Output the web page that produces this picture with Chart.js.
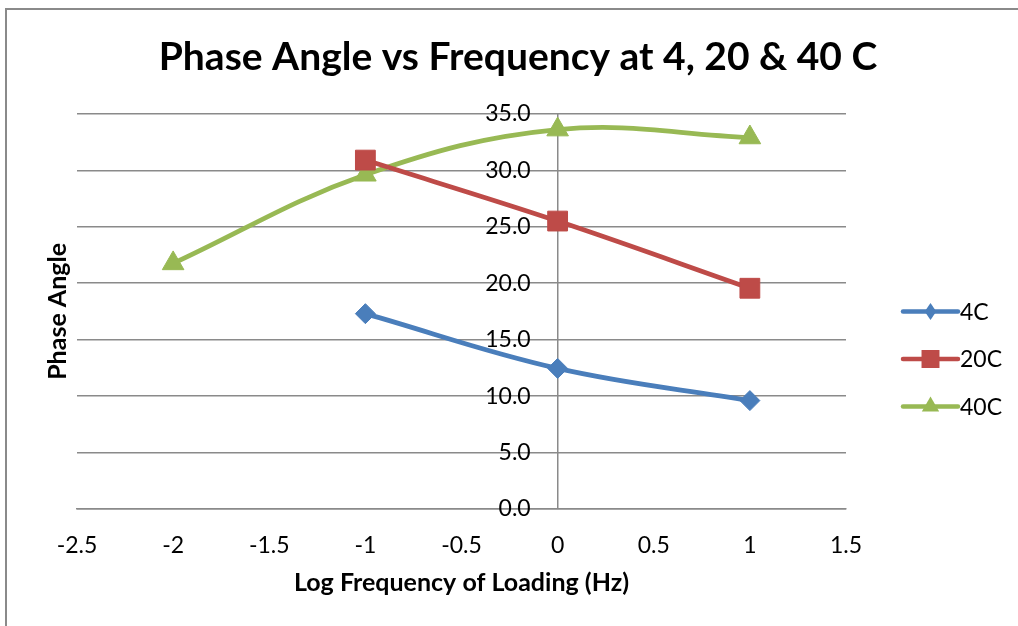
<!DOCTYPE html>
<html>
<head>
<meta charset="utf-8">
<title>Phase Angle vs Frequency</title>
<script src="https://cdn.jsdelivr.net/npm/chart.js@4.4.0/dist/chart.umd.min.js"></script>
<style>
  html, body { margin: 0; padding: 0; background: #ffffff; }
  #wrap { position: relative; width: 1018px; height: 626px; }
</style>
</head>
<body>
<div id="wrap"><canvas id="chart" width="1018" height="626"></canvas></div>
<script>
// Log10 of loading frequency (Hz) for each temperature series
const freq4C  = [-1, 0, 1];
const freq20C = [-1, 0, 1];
const freq40C = [-2, -1, 0, 1];

// Phase angle (degrees)
const phase4C  = [17.3, 12.45, 9.6];
const phase20C = [30.9, 25.5, 19.55];
const phase40C = [21.75, 29.6, 33.6, 32.9];

const seriesNames = ['4C', '20C', '40C'];
const chartTitle = 'Phase Angle vs Frequency at 4, 20 & 40 C';
const xTitle = 'Log Frequency of Loading (Hz)';
const yTitle = 'Phase Angle';

const FONT = "Lato, 'Open Sans', 'DejaVu Sans', sans-serif";
const GRID = '#8a8a8a';
const COLORS = ['#4a7ebb', '#be4b48', '#98b954'];
const STYLES = ['rectRot', 'rect', 'triangle'];
const RADII = [10, 14, 12.5];

const toPoints = (xs, ys) => xs.map((x, i) => ({ x: x, y: ys[i] }));

function makeDataset(i, xs, ys) {
  return {
    label: seriesNames[i],
    data: toPoints(xs, ys),
    yAxisID: 'y',
    xAxisID: 'x',
    borderColor: COLORS[i],
    backgroundColor: COLORS[i],
    borderWidth: 4.75,
    borderCapStyle: 'round',
    borderJoinStyle: 'round',
    tension: 0.38,
    pointStyle: STYLES[i],
    pointRadius: RADII[i],
    pointHoverRadius: RADII[i],
    pointBackgroundColor: COLORS[i],
    pointBorderColor: COLORS[i],
    pointBorderWidth: 1,
    showLine: true,
    fill: false
  };
}

// Marker shape used in the side key
function drawMarker(ctx, style, x, y, r) {
  ctx.beginPath();
  if (style === 'rect') {
    const s = r * Math.SQRT1_2;
    ctx.rect(x - s, y - s, 2 * s, 2 * s);
  } else if (style === 'rectRot') {
    ctx.moveTo(x, y - r);
    ctx.lineTo(x + r * 0.68, y);
    ctx.lineTo(x, y + r);
    ctx.lineTo(x - r * 0.68, y);
    ctx.closePath();
  } else {
    ctx.moveTo(x, y - r);
    ctx.lineTo(x + r * Math.sin(Math.PI * 2 / 3), y + r * 0.5);
    ctx.lineTo(x - r * Math.sin(Math.PI * 2 / 3), y + r * 0.5);
    ctx.closePath();
  }
  ctx.fill();
}

// Chart frame (left and top edges)
const framePlugin = {
  id: 'frame',
  afterDraw(chart) {
    const ctx = chart.ctx;
    ctx.save();
    ctx.strokeStyle = '#8a8a8a';
    ctx.lineWidth = 2;
    ctx.beginPath();
    ctx.moveTo(6, chart.height);
    ctx.lineTo(6, 9);
    ctx.lineTo(chart.width, 9);
    ctx.stroke();
    ctx.restore();
  }
};

// Series key: line segment with marker, then the series name
const keyPlugin = {
  id: 'sideKey',
  afterDraw(chart) {
    const ctx = chart.ctx;
    const area = chart.chartArea;
    const x0 = area.right + 57;
    const x1 = x0 + 55;
    const rows = [311.5, 359, 406.5];
    const keyRadii = [8.5, 12.7, 10];
    ctx.save();
    chart.data.datasets.forEach((ds, i) => {
      const y = rows[i];
      ctx.strokeStyle = ds.borderColor;
      ctx.fillStyle = ds.backgroundColor;
      ctx.lineWidth = 4.5;
      ctx.lineCap = 'round';
      ctx.beginPath();
      ctx.moveTo(x0, y);
      ctx.lineTo(x1, y);
      ctx.stroke();
      drawMarker(ctx, ds.pointStyle, (x0 + x1) / 2, y, keyRadii[i]);
      ctx.fillStyle = '#000000';
      ctx.font = '23px ' + FONT;
      ctx.textAlign = 'left';
      ctx.textBaseline = 'middle';
      ctx.fillText(ds.label, x1 + 2, y + 1);
    });
    ctx.restore();
  }
};

const hidden = 'rgba(0,0,0,0)';

new Chart(document.getElementById('chart'), {
  type: 'scatter',
  data: {
    datasets: [
      makeDataset(0, freq4C, phase4C),
      makeDataset(1, freq20C, phase20C),
      makeDataset(2, freq40C, phase40C)
    ]
  },
  plugins: [framePlugin, keyPlugin],
  options: {
    responsive: false,
    animation: false,
    layout: { padding: { left: 18, top: 0, right: 0, bottom: 27 } },
    plugins: {
      legend: { display: false },
      tooltip: { enabled: false },
      title: {
        display: true,
        text: chartTitle,
        color: '#000000',
        font: { family: FONT, size: 39, weight: 'bold', lineHeight: 1.2 },
        padding: { top: 34, bottom: 33 }
      }
    },
    scales: {
      x: {
        type: 'linear',
        position: 'bottom',
        min: -2.5,
        max: 1.5,
        afterFit: (s) => { s.height = 90; },
        ticks: {
          stepSize: 0.5,
          color: '#000000',
          padding: 23,
          font: { family: FONT, size: 23 },
          callback: (v) => String(Math.round(v * 10) / 10)
        },
        // only the zero line is drawn vertically (the value axis)
        grid: {
          display: true,
          drawTicks: false,
          lineWidth: 1.5,
          color: (c) => (c.tick && c.tick.value === 0 ? GRID : hidden)
        },
        border: { display: true, color: GRID, width: 1.5 },
        title: {
          display: true,
          text: xTitle,
          color: '#000000',
          font: { family: FONT, size: 25, weight: 'bold', lineHeight: 1.2 },
          padding: { top: 4, bottom: 1 }
        }
      },
      y: {
        type: 'linear',
        position: { x: -0.14 },
        min: 0,
        max: 35,
        ticks: {
          stepSize: 5,
          color: '#000000',
          padding: 0,
          font: { family: FONT, size: 23 },
          callback: (v) => Number(v).toFixed(1)
        },
        grid: { color: GRID, lineWidth: 1.5, drawTicks: false },
        border: { display: false },
        title: { display: false }
      },
      yLabel: {
        type: 'linear',
        position: 'left',
        display: true,
        afterFit: (s) => { s.width = 59; },
        ticks: { display: false },
        grid: { display: false, drawTicks: false },
        border: { display: false },
        title: {
          display: true,
          text: yTitle,
          color: '#000000',
          font: { family: FONT, size: 25, weight: 'bold', lineHeight: 1.2 },
          padding: { top: 25, bottom: 4 }
        }
      },
      keySpace: {
        type: 'linear',
        position: 'right',
        display: true,
        afterFit: (s) => { s.width = 172; },
        ticks: { display: false },
        grid: { display: false, drawTicks: false },
        border: { display: false }
      }
    }
  }
});
</script>
</body>
</html>
